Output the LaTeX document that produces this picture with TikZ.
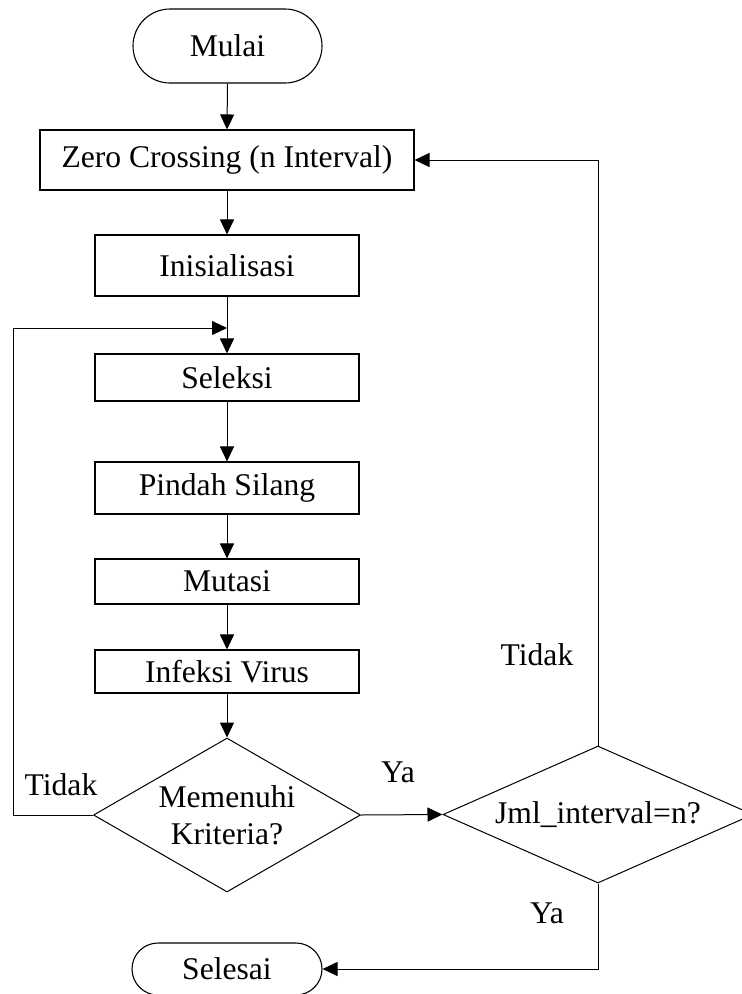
\documentclass[tikz,border=0pt]{standalone}
\usepackage{fontspec}
\setmainfont{Liberation Serif}
\usetikzlibrary{arrows.meta,shapes.geometric}
\begin{document}
\begin{tikzpicture}[x=1pt,y=-1pt,
  every node/.style={font=\fontsize{31.6}{37}\selectfont, inner sep=0pt},
  procbox/.style={draw, line width=1.1pt, rectangle, minimum width=264pt},
  termbox/.style={draw, line width=1.1pt, rectangle, minimum width=189pt},
  decbox/.style={draw, line width=1pt, diamond, inner sep=0pt},
  arr/.style={line width=1pt, -{Triangle[length=15pt,width=14pt]}},
  lineonly/.style={line width=1pt}
]
\useasboundingbox (0,0) rectangle (742,994);

\node[termbox, minimum height=74pt, rounded corners=37pt] (mulai) at (227.5,46) {Mulai};
\node[procbox, minimum width=374pt, minimum height=60pt] (zc) at (227,160) {Zero Crossing (n Interval)};
\node[procbox, minimum height=61pt] (ini) at (227,265.5) {Inisialisasi};
\node[procbox, minimum height=47pt] (sel) at (227,377.5) {Seleksi};
\node[procbox, minimum height=52pt] (pin) at (227,488) {Pindah Silang};
\node[procbox, minimum height=45pt] (mut) at (227,581.5) {Mutasi};
\node[procbox, minimum height=43pt] (inf) at (227,671.5) {Infeksi Virus};

\node[decbox, minimum width=267pt, minimum height=154pt] (d1) at (227,815) {};
\node[align=center] (d1t) at (227,815) {Memenuhi\\Kriteria?};
\node[decbox, minimum width=310pt, minimum height=137pt] (d2) at (598,814.5) {};
\node (d2t) at (598,814.5) {Jml\_interval=n?};

\node[termbox, minimum width=190pt, minimum height=52pt, rounded corners=26pt] (selesai) at (227,969) {Selesai};

\node (tidak1) at (61,785) {Tidak};
\node (ya1) at (398,772) {Ya};
\node (tidak2) at (537,655) {Tidak};
\node (ya2) at (547,913) {Ya};

\coordinate (loopin) at (227,328);
\coordinate (loopc) at (13,328);

\draw[arr] (mulai.south) -- (zc.north);
\draw[arr] (zc.south) -- (ini.north);
\draw[arr] (ini.south) -- (sel.north);
\draw[arr] (sel.south) -- (pin.north);
\draw[arr] (pin.south) -- (mut.north);
\draw[arr] (mut.south) -- (inf.north);
\draw[arr] (inf.south) -- (d1.north);
\draw[arr] (d1.west) -| (loopc) -- (loopin);
\draw[arr] (d1.east) -- (d2.west);
\draw[arr] (d2.north) |- (zc.east);
\draw[arr] (d2.south) |- (selesai.east);
\end{tikzpicture}
\end{document}
